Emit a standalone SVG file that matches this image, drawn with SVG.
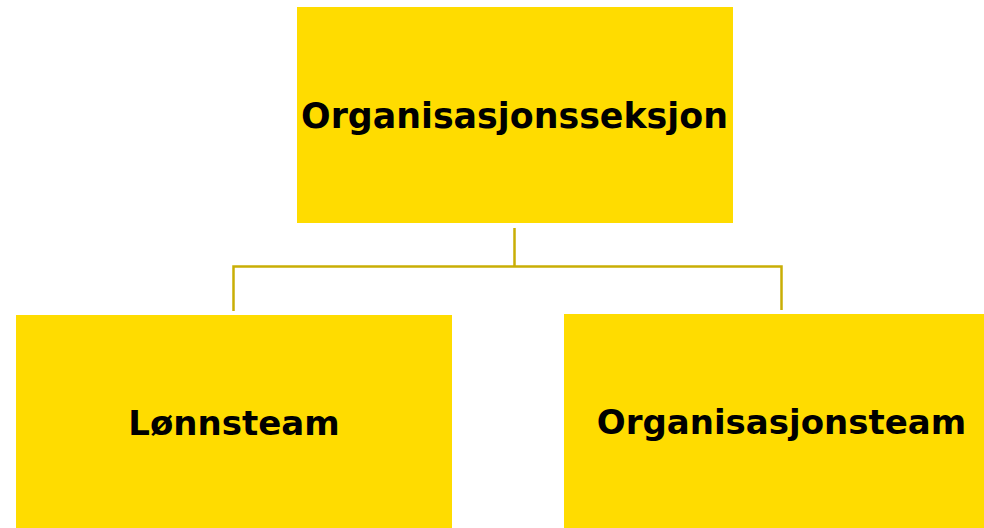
<svg xmlns="http://www.w3.org/2000/svg" width="984" height="528" viewBox="0 0 984 528">
<style>
.box{fill:#FFDC00}
.lbl{font-family:"DejaVu Sans",Verdana,sans-serif;font-weight:bold;font-size:34px;fill:#000;text-anchor:middle}
.con{fill:none;stroke:#C9AE06;stroke-width:2.5}
</style>
<rect width="984" height="528" fill="#fff"/>
<g id="connectors">
<path class="con" d="M514.5 228 V266.5 M233.5 311 V266.5 H781.5 V310"/>
</g>
<g id="node-top">
<rect class="box" x="297" y="7" width="436" height="216"/>
<text class="lbl" x="514.5" y="128" style="font-size:34.8px">Organisasjonsseksjon</text>
</g>
<g id="node-left">
<rect class="box" x="16" y="315" width="436" height="213"/>
<text class="lbl" x="234" y="435">Lønnsteam</text>
</g>
<g id="node-right">
<rect class="box" x="564" y="314" width="420" height="214"/>
<text class="lbl" x="781.5" y="434">Organisasjonsteam</text>
</g>
</svg>
